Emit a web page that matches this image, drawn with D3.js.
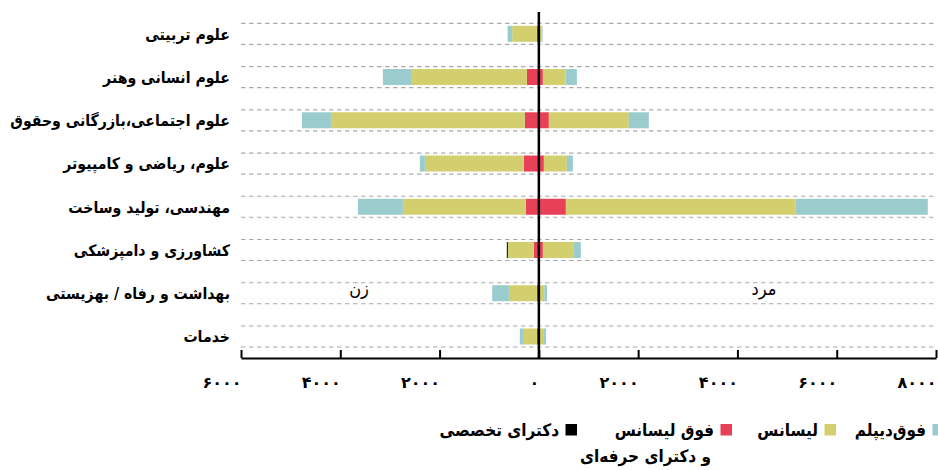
<!DOCTYPE html>
<html>
<head>
<meta charset="utf-8">
<script src="https://cdn.jsdelivr.net/npm/d3@7"></script>
<style>
body { margin: 0; background: #fff; }
text { font-family: "DejaVu Sans Condensed", "DejaVu Sans", sans-serif; }
</style>
</head>
<body>
<div id="chart"></div>
<script>
// categories, top to bottom
var categories = ["علوم تربیتی", "علوم انسانی وهنر", "علوم اجتماعی،بازرگانی وحقوق", "علوم، ریاضی و کامپیوتر",
    "مهندسی، تولید وساخت", "کشاورزی و دامپزشکی", "بهداشت و رفاه / بهزیستی", "خدمات"];

// women (left side)
var womenMasters = [40, 242, 282, 302, 262, 101, 40, 40];
var womenBachelor = [497, 2316, 3907, 1994, 2477, 524, 564, 262];
var womenAssociate = [93, 584, 584, 101, 906, 0, 336, 81];
var womenPhd = [0, 0, 0, 0, 0, 20, 0, 0];

// men (right side)
var menMasters = [10, 81, 201, 101, 544, 81, 10, 10];
var menBachelor = [45, 457, 1611, 463, 4626, 624, 100, 95];
var menAssociate = [20, 228, 403, 121, 2665, 141, 54, 40];
var menPhd = [0, 0, 0, 0, 0, 0, 0, 0];

// axis ticks
var tickValues = [-6000, -4000, -2000, 0, 2000, 4000, 6000, 8000];
var tickLabels = ["۶۰۰۰", "۴۰۰۰", "۲۰۰۰", "۰", "۲۰۰۰", "۴۰۰۰", "۶۰۰۰", "۸۰۰۰"];

// series, stacked from the centre outwards
var seriesKeys = ["masters", "bachelor", "associate", "phd"];
var seriesColors = ["#e84057", "#d3cf6e", "#9acbcd", "#000000"];

// legend, right to left
var legendKeys = ["associate", "bachelor", "masters", "phd"];
var legendNames = [["فوق‌دیپلم"], ["لیسانس"], ["فوق لیسانس", "و دکترای حرفه‌ای"], ["دکترای تخصصی"]];

var sideLabels = ["زن", "مرد"];

var width = 938, height = 470;

var svg = d3.select("#chart")
    .append("svg")
    .attr("width", width)
    .attr("height", height);

var x = d3.scaleLinear()
    .domain([-6000, 8000])
    .range([241, 936]);

var y = d3.scalePoint()
    .domain(categories)
    .range([33.8, 336.5]);

var color = d3.scaleOrdinal()
    .domain(seriesKeys)
    .range(seriesColors);

function rows(m, b, a, p) {
    return categories.map(function (c, i) {
        return { cat: c, masters: m[i], bachelor: b[i], associate: a[i], phd: p[i] };
    });
}

var stack = d3.stack().keys(seriesKeys);
var women = stack(rows(womenMasters, womenBachelor, womenAssociate, womenPhd));
var men = stack(rows(menMasters, menBachelor, menAssociate, menPhd));

// dashed lines above and below every row
var grid = svg.append("g");
categories.forEach(function (c) {
    [-10.5, 10.5].forEach(function (off) {
        grid.append("line")
            .attr("x1", x(-6000))
            .attr("x2", x(8000))
            .attr("y1", y(c) + off)
            .attr("y2", y(c) + off)
            .attr("stroke", "#aaa")
            .attr("stroke-width", 1.2)
            .attr("stroke-dasharray", "4.5,3.5");
    });
});

var barH = 16;

// women bars go left
svg.append("g")
    .selectAll("g")
    .data(women)
    .enter().append("g")
    .attr("fill", function (d) { return color(d.key); })
    .selectAll("rect")
    .data(function (d) { return d; })
    .enter().append("rect")
    .attr("x", function (d) { return x(-d[1]); })
    .attr("width", function (d) { return x(-d[0]) - x(-d[1]); })
    .attr("y", function (d) { return y(d.data.cat) - barH / 2; })
    .attr("height", barH);

// men bars go right
svg.append("g")
    .selectAll("g")
    .data(men)
    .enter().append("g")
    .attr("fill", function (d) { return color(d.key); })
    .selectAll("rect")
    .data(function (d) { return d; })
    .enter().append("rect")
    .attr("x", function (d) { return x(d[0]); })
    .attr("width", function (d) { return x(d[1]) - x(d[0]); })
    .attr("y", function (d) { return y(d.data.cat) - barH / 2; })
    .attr("height", barH);

// zero line
svg.append("line")
    .attr("x1", x(0))
    .attr("x2", x(0))
    .attr("y1", 12)
    .attr("y2", 358)
    .attr("stroke", "#000")
    .attr("stroke-width", 2.5);

// axis
var axis = svg.append("g")
    .attr("transform", "translate(0,358)")
    .call(d3.axisTop(x)
        .tickValues(tickValues)
        .tickSize(8)
        .tickSizeOuter(0)
        .tickFormat(function (d, i) { return tickLabels[i]; }));

axis.select(".domain").attr("stroke-width", 2);
axis.selectAll(".tick line").attr("stroke-width", 2);
axis.selectAll(".tick text")
    .attr("y", 30)
    .attr("dy", 0)
    .attr("text-anchor", "end")
    .style("font-family", "DejaVu Sans")
    .style("font-size", "16px")
    .style("font-weight", "bold")
    .attr("fill", "#000");

// category labels
var labels = svg.append("g")
    .selectAll("text")
    .data(categories)
    .enter().append("text")
    .attr("x", 230)
    .attr("y", function (d) { return y(d); })
    .attr("dy", "0.38em")
    .attr("text-anchor", "end")
    .style("font-size", "17px")
    .style("font-weight", "bold")
    .text(function (d) { return d; });

// shrink so the longest label fits in 220px like the reference
var longest = d3.max(labels.nodes(), function (n) { return n.getComputedTextLength(); });
if (longest > 220) labels.style("font-size", (17 * 220 / longest) + "px");

// women / men
svg.append("text")
    .attr("x", 359)
    .attr("y", 295)
    .attr("text-anchor", "middle")
    .style("font-size", "18px")
    .text(sideLabels[0]);

svg.append("text")
    .attr("x", 764)
    .attr("y", 295)
    .attr("text-anchor", "middle")
    .style("font-size", "18px")
    .text(sideLabels[1]);

// legend
var legendRight = [944, 836, 732, 577];
var legend = svg.append("g");
legendKeys.forEach(function (k, i) {
    var r = legendRight[i];
    legend.append("rect")
        .attr("x", r - 11.5)
        .attr("y", 424)
        .attr("width", 11.5)
        .attr("height", 11.5)
        .attr("fill", color(k));
    legendNames[i].forEach(function (line, j) {
        legend.append("text")
            .attr("x", r - 18 - j * 3)
            .attr("y", 436 + j * 26)
            .attr("text-anchor", "end")
            .style("font-size", "17px")
            .style("font-weight", "bold")
            .text(line);
    });
});
</script>
</body>
</html>
